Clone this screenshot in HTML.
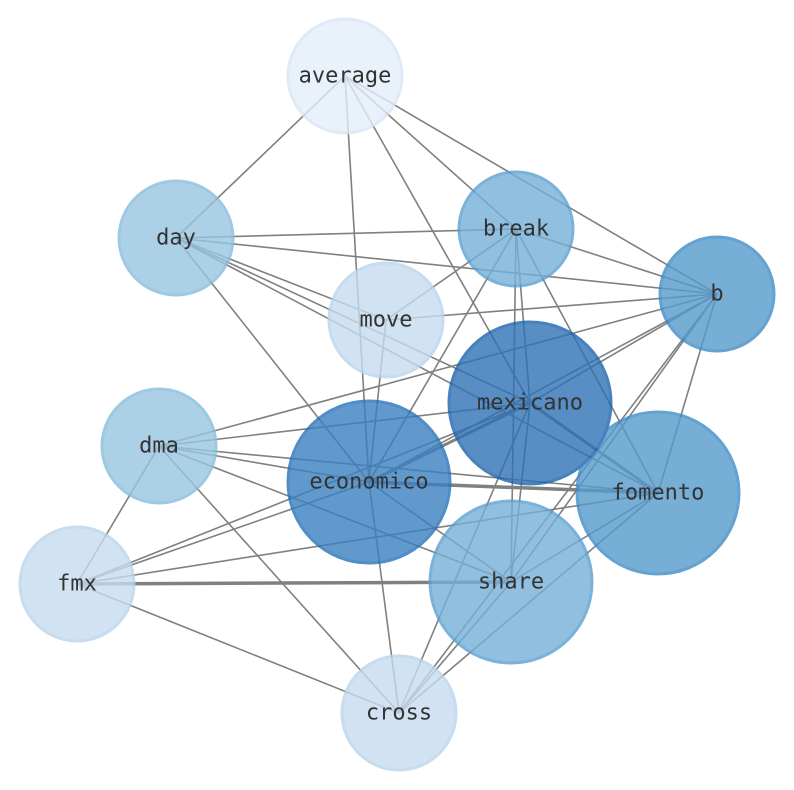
<!DOCTYPE html>
<html><head><meta charset="utf-8"><style>html,body{margin:0;padding:0;background:#fff}svg{display:block}</style></head>
<body>
<svg width="794" height="790" viewBox="0 0 794 790" xmlns="http://www.w3.org/2000/svg">
<g stroke="#808080" stroke-width="1.6" fill="none">
<line x1="345" y1="76" x2="176" y2="238"/>
<line x1="345" y1="76" x2="369" y2="482"/>
<line x1="345" y1="76" x2="530" y2="403"/>
<line x1="345" y1="76" x2="516" y2="229"/>
<line x1="345" y1="76" x2="717" y2="294"/>
<line x1="176" y1="238" x2="516" y2="229"/>
<line x1="176" y1="238" x2="717" y2="294"/>
<line x1="176" y1="238" x2="530" y2="403"/>
<line x1="176" y1="238" x2="658" y2="493"/>
<line x1="176" y1="238" x2="386" y2="320"/>
<line x1="176" y1="238" x2="369" y2="482"/>
<line x1="516" y1="229" x2="717" y2="294"/>
<line x1="516" y1="229" x2="386" y2="320"/>
<line x1="516" y1="229" x2="530" y2="403"/>
<line x1="516" y1="229" x2="658" y2="493"/>
<line x1="516" y1="229" x2="369" y2="482"/>
<line x1="516" y1="229" x2="511" y2="582"/>
<line x1="717" y1="294" x2="386" y2="320"/>
<line x1="717" y1="294" x2="530" y2="403"/>
<line x1="717" y1="294" x2="159" y2="446"/>
<line x1="717" y1="294" x2="369" y2="482"/>
<line x1="717" y1="294" x2="658" y2="493"/>
<line x1="717" y1="294" x2="511" y2="582"/>
<line x1="386" y1="320" x2="369" y2="482"/>
<line x1="159" y1="446" x2="530" y2="403"/>
<line x1="159" y1="446" x2="658" y2="493"/>
<line x1="159" y1="446" x2="369" y2="482"/>
<line x1="159" y1="446" x2="511" y2="582"/>
<line x1="159" y1="446" x2="399" y2="713"/>
<line x1="159" y1="446" x2="77" y2="584"/>
<line x1="369" y1="482" x2="530" y2="403" stroke-width="3"/>
<line x1="369" y1="482" x2="658" y2="493" stroke-width="3.5"/>
<line x1="369" y1="482" x2="511" y2="582"/>
<line x1="369" y1="482" x2="399" y2="713"/>
<line x1="369" y1="482" x2="77" y2="584"/>
<line x1="77" y1="584" x2="530" y2="403"/>
<line x1="77" y1="584" x2="658" y2="493"/>
<line x1="77" y1="584" x2="511" y2="582" stroke-width="3.5"/>
<line x1="77" y1="584" x2="399" y2="713"/>
<line x1="530" y1="403" x2="658" y2="493" stroke-width="3"/>
<line x1="530" y1="403" x2="511" y2="582"/>
<line x1="530" y1="403" x2="399" y2="713"/>
<line x1="511" y1="582" x2="658" y2="493"/>
<line x1="511" y1="582" x2="399" y2="713"/>
<line x1="399" y1="713" x2="658" y2="493"/>
<line x1="399" y1="713" x2="717" y2="294"/>
</g>
<g stroke-width="3" opacity="0.8">
<circle cx="345" cy="76" r="57" fill="#e4eef9" stroke="#d8e6f4"/>
<circle cx="176" cy="238" r="57" fill="#98c6e0" stroke="#87bcdc"/>
<circle cx="516" cy="229" r="57" fill="#76b0d8" stroke="#5b9fd0"/>
<circle cx="717" cy="294" r="57" fill="#559bcd" stroke="#3d8bc6"/>
<circle cx="386" cy="320" r="57" fill="#c6dcf0" stroke="#b9d4ec"/>
<circle cx="159" cy="446" r="57" fill="#98c6e0" stroke="#87bcdc"/>
<circle cx="77" cy="584" r="57" fill="#c6dcf0" stroke="#b9d4ec"/>
<circle cx="399" cy="713" r="57" fill="#c6dcf0" stroke="#b9d4ec"/>
<circle cx="369" cy="482" r="81" fill="#3a80c0" stroke="#2672b8"/>
<circle cx="658" cy="493" r="81" fill="#559bcd" stroke="#3d8bc6"/>
<circle cx="511" cy="582" r="81" fill="#76b0d8" stroke="#5b9fd0"/>
<circle cx="530" cy="403" r="81" fill="#2f72b5" stroke="#1a63ad"/>
</g>
<g font-family="'DejaVu Sans Mono','Liberation Mono',monospace" font-size="22" fill="#333" text-anchor="middle" dominant-baseline="central">
<text x="345" y="76">average</text>
<text x="176" y="238">day</text>
<text x="516" y="229">break</text>
<text x="717" y="294">b</text>
<text x="386" y="320">move</text>
<text x="530" y="403">mexicano</text>
<text x="159" y="446">dma</text>
<text x="369" y="482">economico</text>
<text x="658" y="493">fomento</text>
<text x="77" y="584">fmx</text>
<text x="511" y="582">share</text>
<text x="399" y="713">cross</text>
</g>
</svg>
</body></html>
